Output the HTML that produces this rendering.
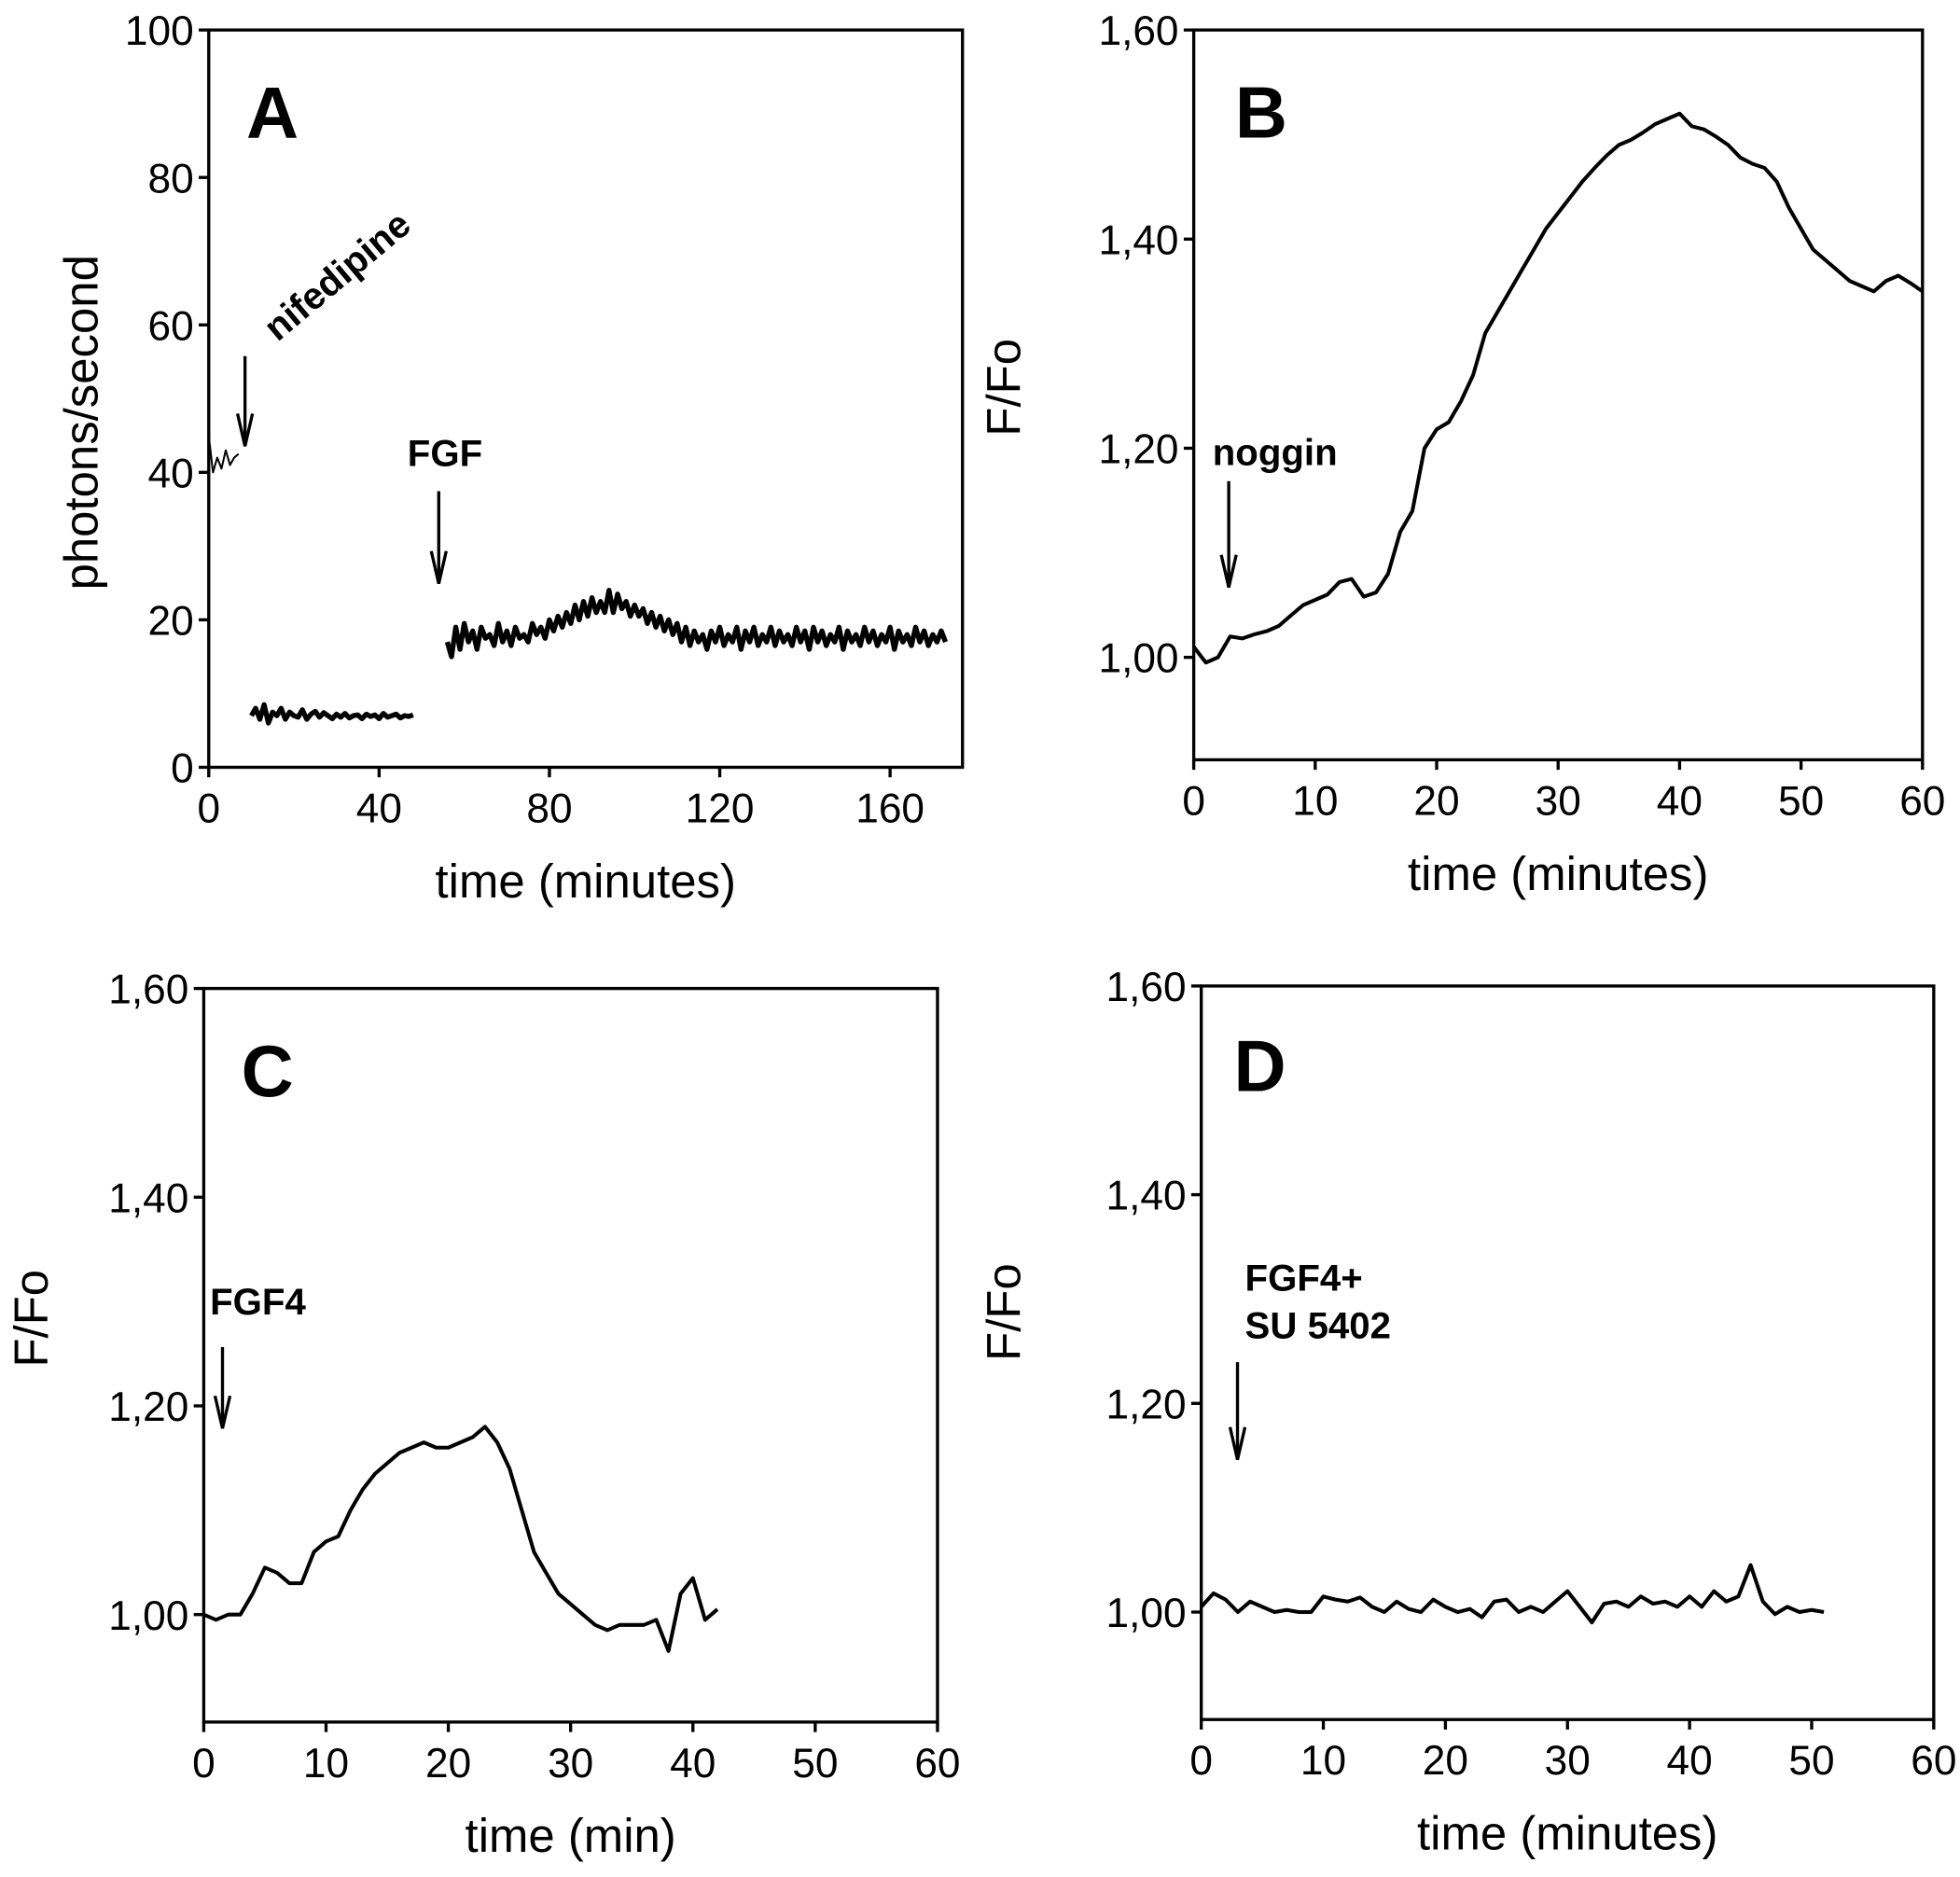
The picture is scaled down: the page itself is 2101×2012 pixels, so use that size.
<!DOCTYPE html>
<html><head><meta charset="utf-8"><style>
html,body{margin:0;padding:0;background:#fff}
svg{display:block}
text{font-family:"Liberation Sans",Arial,sans-serif;fill:#000}
</style></head><body>
<svg id="fig" width="2101" height="2012" viewBox="0 0 1568 1502" preserveAspectRatio="none" xmlns="http://www.w3.org/2000/svg"></svg>
<script>
// ---- Panel A data ----
const aTicksX=[0,40,80,120,160];
const aTicksY=[0,20,40,60,80,100];
const a1T=[0,1,2,3,4,5,6,7];
const a1V=[45,40,42,40.5,43,41,42,42.5];
const a2Start=10, a2Step=1;
const a2V=[7,8,6.5,8.5,6,7.5,7,8,6.5,7.5,7,6.8,7.8,6.5,7.2,7.6,6.8,7.4,7,6.6,7.2,6.8,7.3,6.7,7,7.1,6.6,7.2,6.9,7.1,6.6,7.3,6.8,7,7.2,6.7,7,6.9,7.1];
const a3Start=56, a3Step=1;
const a3V=[17,15,19,16,19.5,17,18.5,16,19,17.5,18,16.5,19.5,17,18.5,16.5,19,17.5,18,17,19.5,18,19,17.5,20,18.5,20.5,19,21,19.5,22,20,22.5,20.5,23,21,22.5,21,24,21,23.5,21.5,22.5,20.5,22,20.5,21.5,19.5,21,19,20.5,18.5,20,18,19.5,17,19,16.5,18.5,17,18,16,18.5,17,19,16.5,18,17,19,16,18.5,17,19,16.5,18,17,19,16.5,18.5,17,18,16.5,19,17,18.5,16,19,17,18.5,16.5,18,17,19,16,18.5,17,18,16.5,19,17,18.5,16.5,18,17,19,16,18.5,17,18,16.5,19,17,18.5,16.5,18,17,18.5,17];
// ---- Panel B data ----
const bTicksX=[0,10,20,30,40,50,60];
const bTicksY=[1.0,1.2,1.4,1.6];
const bTickLabels=["1,00","1,20","1,40","1,60"];
const bV=[1.01,0.995,1.0,1.02,1.018,1.022,1.025,1.03,1.04,1.05,1.055,1.06,1.072,1.075,1.058,1.062,1.08,1.12,1.14,1.2,1.218,1.225,1.245,1.27,1.31,1.33,1.35,1.37,1.39,1.41,1.425,1.44,1.455,1.468,1.48,1.49,1.495,1.502,1.51,1.515,1.52,1.508,1.505,1.498,1.49,1.478,1.472,1.468,1.455,1.43,1.41,1.39,1.38,1.37,1.36,1.355,1.35,1.36,1.365,1.358,1.35];
// ---- Panel C data ----
const cV=[1.0,0.995,1.0,1.0,1.02,1.045,1.04,1.03,1.03,1.06,1.07,1.075,1.1,1.12,1.135,1.145,1.155,1.16,1.165,1.16,1.16,1.165,1.17,1.18,1.165,1.14,1.1,1.06,1.04,1.02,1.01,1.0,0.99,0.985,0.99,0.99,0.99,0.995,0.965,1.02,1.035,0.995,1.005];
// ---- Panel D data ----
const dV=[1.005,1.018,1.012,1.0,1.01,1.005,1.0,1.002,1.0,1.0,1.015,1.012,1.01,1.014,1.005,1.0,1.01,1.003,1.0,1.012,1.005,1.0,1.003,0.995,1.01,1.012,1.0,1.005,1.0,1.01,1.02,1.005,0.99,1.008,1.01,1.005,1.015,1.008,1.01,1.005,1.015,1.005,1.02,1.01,1.015,1.045,1.01,0.998,1.005,1.0,1.002,1.0];

const svg=document.getElementById('fig');
const NS="http://www.w3.org/2000/svg";
function mk(tag,attrs,parent){const e=document.createElementNS(NS,tag);for(const k in attrs)e.setAttribute(k,attrs[k]);(parent||svg).appendChild(e);return e;}
function txt(x,y,s,size,opts,parent){const e=mk('text',Object.assign({x:x,y:y,'font-size':size},opts||{}),parent);e.textContent=s;return e;}

function panel(p){
  const g=mk('g',{});
  
  
  const sx=v=>p.l+(v-p.x0)/(p.x1-p.x0)*(p.r-p.l);
  const sy=v=>p.b-(v-p.y0)/(p.y1-p.y0)*(p.b-p.t);
  const fr=mk('rect',{x:p.l,y:p.t,width:p.r-p.l,height:p.b-p.t,fill:'none',stroke:'#000','stroke-width':2.5},g);
  
  
  p.xt.forEach(v=>{
    mk('line',{x1:sx(v),x2:sx(v),y1:p.b,y2:p.b+8,stroke:'#000','stroke-width':2.5},g);
    const t=txt(sx(v),p.b+44,String(v),33,{'text-anchor':'middle'},g);
    
    
  });
  p.yt.forEach((v,i)=>{
    mk('line',{x1:p.l-8,x2:p.l,y1:sy(v),y2:sy(v),stroke:'#000','stroke-width':2.5},g);
    const t=txt(p.l-12,sy(v)+12,p.yl[i],33,{'text-anchor':'end'},g);
    
    
  });
  const xt=txt((p.l+p.r)/2,p.b+104,p.xtitle,38,{'text-anchor':'middle'},g);
  
  
  const yt=txt(0,0,p.ytitle,38,{'text-anchor':'middle',transform:`translate(${p.ytx},${p.ytY||(p.t+p.b)/2}) rotate(-90)`},g);
  
  
  const lt=txt(p.letter[0],p.letter[1],p.id,58,{'font-weight':'bold'},g);
  
  
  p.series.forEach(s=>{
    let d='';
    s.v.forEach((v,i)=>{const t=s.t?s.t[i]:s.start+i*s.step;d+=(i?'L':'M')+sx(t).toFixed(1)+','+sy(v).toFixed(1);});
    const pa=mk('path',{d:d,fill:'none',stroke:'#000','stroke-width':s.w,'stroke-linejoin':'round'},g);
    
    
  });
  p.arrows.forEach(a=>{
    const ag=mk('g',{},g);
    
    
    mk('line',{x1:a[0],x2:a[0],y1:a[1],y2:a[2]-2,stroke:'#000','stroke-width':2.5},ag);
    mk('path',{d:`M${a[0]-6},${a[2]-26}L${a[0]},${a[2]}L${a[0]+6},${a[2]-26}`,fill:'none',stroke:'#000','stroke-width':2.5},ag);
  });
  p.notes.forEach(n=>{
    const t=txt(n[0],n[1],n[2],30,{'font-weight':'bold',transform:n[3]?`rotate(${n[3]} ${n[0]} ${n[1]})`:''},g);
    
    
  });
}
const fy=["1,00","1,20","1,40","1,60"];
panel({id:'A',l:167,r:770,t:24,b:614,x0:0,x1:177,y0:0,y1:100,xt:aTicksX,yt:aTicksY,yl:aTicksY.map(String),
  xtitle:'time (minutes)',ytitle:'photons/second',ytx:78,ytY:338,letter:[197,110],
  series:[{t:a1T,v:a1V,w:1.5},{start:a2Start,step:a2Step,v:a2V,w:4},{start:a3Start,step:a3Step,v:a3V,w:4}],
  arrows:[[196,285,357],[351,393,467]],notes:[[222,274,'nifedipine',-40],[326,373,'FGF']]});
panel({id:'B',l:955,r:1538,t:24,b:608,x0:0,x1:60,y0:0.902,y1:1.6,xt:bTicksX,yt:bTicksY,yl:bTickLabels,
  xtitle:'time (minutes)',ytitle:'F/Fo',ytx:816,ytY:310,letter:[988,110],
  series:[{start:0,step:1,v:bV,w:3}],arrows:[[983,385,470]],notes:[[970,372,'noggin']]});
panel({id:'C',l:163,r:750,t:791,b:1378,x0:0,x1:60,y0:0.897,y1:1.6,xt:bTicksX,yt:bTicksY,yl:fy,
  xtitle:'time (min)',ytitle:'F/Fo',ytx:38,ytY:1055,letter:[193,877],
  series:[{start:0,step:1,v:cV,w:3}],arrows:[[178,1078,1143]],notes:[[168,1052,'FGF4']]});
panel({id:'D',l:961,r:1547,t:789,b:1376,x0:0,x1:60,y0:0.897,y1:1.6,xt:bTicksX,yt:bTicksY,yl:fy,
  xtitle:'time (minutes)',ytitle:'F/Fo',ytx:816,ytY:1050,letter:[987,873],
  series:[{start:0,step:1,v:dV,w:3}],arrows:[[990,1090,1168]],notes:[[996,1033,'FGF4+'],[996,1071,'SU 5402']]});
</script>
</body></html>
